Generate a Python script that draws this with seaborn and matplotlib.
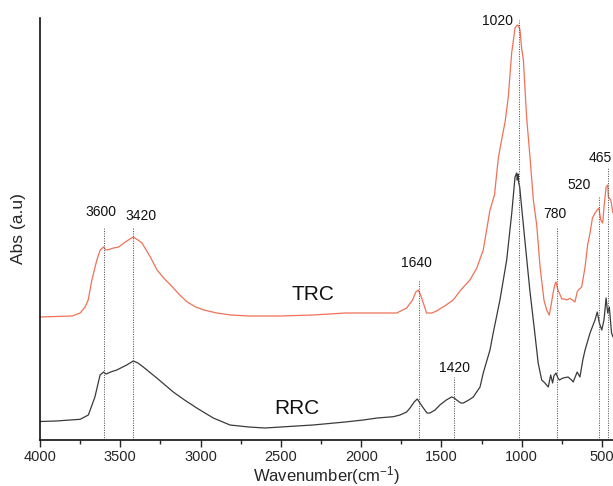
import numpy as np
import pandas as pd
import matplotlib
matplotlib.use("Agg")
import matplotlib.pyplot as plt
from matplotlib.ticker import MultipleLocator
import seaborn as sns

# ---- data (wavenumber in cm-1, absorbance in arbitrary units) ----
trc_wn = [4000, 3900, 3800, 3750, 3719, 3700, 3677, 3646, 3625, 3604, 3590, 3570,
          3542, 3510, 3469, 3440, 3420, 3390, 3365, 3313, 3271, 3230, 3187, 3130,
          3083, 3030, 2979, 2900, 2813, 2700, 2506, 2300, 2200, 2100, 2028, 1900,
          1779, 1717, 1680, 1660, 1645, 1630, 1613, 1593, 1560, 1531, 1480, 1427,
          1380, 1323, 1280, 1240, 1198, 1170, 1146, 1120, 1104, 1084, 1063, 1042,
          1028, 1020, 1011, 1001, 990, 970, 950, 928, 907, 886, 862, 845, 829,
          815, 805, 795, 787, 775, 766, 751, 735, 720, 700, 685, 669, 655, 648,
          627, 606, 590, 575, 560, 544, 530, 520, 508, 496, 488, 475, 465, 461,
          446, 432]
trc_abs = [123, 123.5, 124, 127, 133, 140, 160, 180, 190, 193, 190, 190.5,
           192, 193, 198, 201, 203, 200, 197, 183, 170, 162, 155, 145,
           138, 133, 130, 127, 125, 124, 124, 125, 126, 127, 127, 127,
           127, 132, 140, 148, 150, 145, 137, 127, 127, 129, 134, 140,
           150, 160, 172, 190, 230, 245, 282, 305, 318, 343, 387, 412,
           415, 414, 410, 392, 380, 323, 285, 240, 215, 173, 140, 130, 125,
           137, 147, 155, 158, 150, 147, 141, 141, 140, 141.7, 140, 138, 148, 150,
           153, 173, 195, 207, 222, 227, 230, 232, 220, 217, 233, 253, 255, 243,
           240, 227]

rrc_wn = [4000, 3900, 3750, 3699, 3658, 3626, 3604, 3589, 3560, 3522, 3460, 3419,
          3390, 3357, 3273, 3170, 3100, 3024, 2921, 2817, 2700, 2600, 2500, 2402,
          2300, 2200, 2100, 1987, 1900, 1800, 1758, 1717, 1696, 1670, 1651, 1630,
          1613, 1590, 1572, 1540, 1510, 1470, 1437, 1420, 1406, 1380, 1364, 1330,
          1302, 1260, 1240, 1198, 1178, 1136, 1094, 1063, 1042, 1032, 1028, 1024,
          1020, 1013, 1001, 981, 950, 919, 898, 876, 856, 835, 820, 808, 800, 787,
          775, 766, 743, 712, 690, 680, 665, 655, 638, 620, 606, 575, 544, 530,
          517, 502, 488, 475, 465, 455, 441, 432]
rrc_abs = [18.5, 19, 20.7, 25, 43, 65, 68, 66, 68, 70, 75, 79,
           77, 73, 62, 48, 40, 32, 22, 15, 13, 12, 13, 14,
           15, 16.5, 18, 20, 22, 23.3, 25, 28, 32, 38, 41, 36,
           32, 27, 27, 30, 35, 40, 43, 42, 40, 37, 37, 40,
           43, 53, 67, 90, 107, 140, 180, 226, 263, 267, 260, 266,
           258, 253, 233, 200, 150, 107, 77, 60, 57, 53, 65, 57, 64, 67,
           62, 60, 62, 63, 60, 58, 64, 68, 63, 80, 90, 107, 120, 128,
           117, 110, 120, 142, 127, 133, 107, 103]

peak_wn = [3600, 3420, 1640, 1420, 1020, 780, 520, 465]
peak_labels = ["3600", "3420", "1640", "1420", "1020", "780", "520", "465"]
peak_top = [213, 213, 160, 63, 420, 212, 243, 273]

series_names = ["TRC", "RRC"]

# ---- layout (label positions) ----
peak_label_xy = [(3620, 228), (3371, 224), (1654, 177), (1422, 72),
                 (1151, 419), (793, 226.5), (641, 255), (510, 282)]
series_label_xy = [(2300, 146), (2400, 32)]

df = pd.concat([
    pd.DataFrame({"wn": trc_wn, "abs": trc_abs, "sample": "TRC"}),
    pd.DataFrame({"wn": rrc_wn, "abs": rrc_abs, "sample": "RRC"}),
])

sns.set_style("ticks")
plt.rcParams["font.family"] = ["Liberation Sans", "DejaVu Sans"]
plt.rcParams["mathtext.fontset"] = "custom"
plt.rcParams["mathtext.rm"] = "Liberation Sans"
plt.rcParams["mathtext.it"] = "Liberation Sans:italic"

fig = plt.figure(figsize=(6.13, 4.86), dpi=100)
ax = fig.add_axes([40 / 613, 46 / 486, 573 / 613, 422 / 486])

sns.lineplot(data=df, x="wn", y="abs", hue="sample", sort=False,
             palette={"TRC": "#ef7257", "RRC": "#3a3a3a"},
             linewidth=0.9, legend=False, ax=ax, estimator=None)

for wn, top, lab, (lx, ly) in zip(peak_wn, peak_top, peak_labels, peak_label_xy):
    ax.plot([wn, wn], [0, top], color="#555555", linestyle=(0, (1, 1.3)),
            linewidth=0.75)
    ax.text(lx, ly, lab, ha="center", va="center", fontsize=10, color="#111111")

for name, (sx, sy) in zip(series_names, series_label_xy):
    ax.text(sx, sy, name, ha="center", va="center", fontsize=15, color="#111111")

ax.set_xlim(4000, 432)
ax.set_ylim(0, 422)
ax.xaxis.set_major_locator(MultipleLocator(500))
ax.xaxis.set_minor_locator(MultipleLocator(250))
ax.tick_params(axis="x", which="major", direction="out", length=5, width=1,
               labelsize=10.5, pad=2)
ax.tick_params(axis="x", which="minor", direction="out", length=3, width=1)
ax.set_yticks([])
for s in ["top", "right"]:
    ax.spines[s].set_visible(False)
for s in ["left", "bottom"]:
    ax.spines[s].set_linewidth(1.2)
    ax.spines[s].set_color("#111111")

ax.set_xlabel("Wavenumber(cm$^{-1}$)", fontsize=12, labelpad=0)
ax.set_ylabel("Abs (a.u)", fontsize=12.5, labelpad=10)

fig.savefig("out.png", dpi=100)
